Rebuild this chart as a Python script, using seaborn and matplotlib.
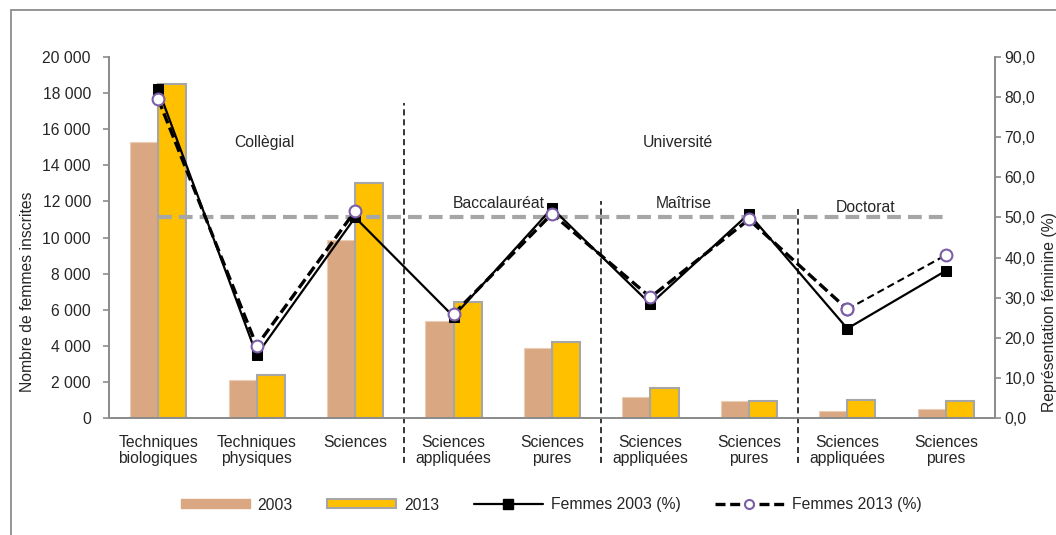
import numpy as np
import pandas as pd
import matplotlib
matplotlib.use("Agg")
import matplotlib.pyplot as plt
import seaborn as sns
from matplotlib.lines import Line2D
from matplotlib.patches import Patch, Rectangle
from matplotlib.ticker import FuncFormatter, MultipleLocator, FixedLocator

# --- data ---
categories = ["Techniques\nbiologiques", "Techniques\nphysiques", "Sciences",
              "Sciences\nappliquées", "Sciences\npures",
              "Sciences\nappliquées", "Sciences\npures",
              "Sciences\nappliquées", "Sciences\npures"]
inscrites_2003 = [15300, 2100, 9850, 5350, 3900, 1150, 950, 400, 520]
inscrites_2013 = [18500, 2400, 13000, 6450, 4200, 1650, 950, 980, 950]
femmes_2003 = [82.0, 15.7, 50.0, 25.3, 52.3, 28.4, 50.9, 22.3, 36.7]
femmes_2013 = [79.5, 18.0, 51.6, 25.9, 50.9, 30.1, 49.5, 27.1, 40.6]
parite = 50
years = ["2003", "2013"]
group_labels = ["Collègial", "Université", "Baccalauréat", "Maîtrise", "Doctorat"]
group_ends = [2, 4, 6]  # last category index before each divider

# colours
c2003 = "#D9A882"
c2013 = "#FFC000"
grey = "#8C8C8C"
purple = "#7B5EA7"
FS = 11.3

sns.set_style("white")
plt.rcParams["font.family"] = ["Liberation Sans", "DejaVu Sans"]
plt.rcParams["font.size"] = FS

W, H = 1056, 535
fig = plt.figure(figsize=(W / 100, H / 100), dpi=100)
ax = fig.add_axes([109 / W, 1 - 418 / H, (995 - 109) / W, (418 - 57) / H])

pos = np.arange(len(categories))
df = pd.DataFrame({
    "cat": np.tile(pos, 2),
    "n": inscrites_2003 + inscrites_2013,
    "annee": np.repeat(years, len(categories)),
})

sns.barplot(data=df, x="cat", y="n", hue="annee", hue_order=years,
            palette={"2003": c2003, "2013": c2013}, saturation=1,
            width=0.57, gap=0, legend=False, ax=ax, errorbar=None)
for cont, ec, lw in zip(ax.containers, ["#E9CDB6", "#A6A6A6"], [0.8, 1.5]):
    for p in cont:
        p.set_edgecolor(ec)
        p.set_linewidth(lw)

ax.set_xlim(-0.5, len(categories) - 0.5)
ax.set_ylim(0, 20000)
ax.yaxis.set_major_locator(MultipleLocator(2000))
ax.yaxis.set_major_formatter(FuncFormatter(lambda v, _: f"{int(v):,}".replace(",", " ")))
ax.set_xticks(pos)
ax.set_xticklabels(categories, fontsize=FS, linespacing=1.15)
ax.xaxis.set_minor_locator(FixedLocator(np.arange(-0.5, len(categories), 1.0)))
ax.tick_params(axis="x", which="major", length=0, pad=12)
ax.tick_params(axis="x", which="minor", length=5, color=grey, width=1.2, direction="out")
ax.tick_params(axis="y", length=4, color=grey, width=1.2, direction="out", pad=9, labelsize=FS, left=True)
ax.set_xlabel("")
ax.set_ylabel("")
for s in ["left", "bottom", "right"]:
    ax.spines[s].set_color(grey)
    ax.spines[s].set_linewidth(1.3)
ax.spines["top"].set_visible(False)

# --- percentage lines on the right axis ---
ax2 = ax.twinx()
ax2.set_ylim(0, 90)
ax2.yaxis.set_major_locator(MultipleLocator(10))
ax2.yaxis.set_major_formatter(FuncFormatter(lambda v, _: f"{v:.1f}".replace(".", ",")))
ax2.tick_params(axis="y", length=4, color=grey, width=1.2, direction="out", pad=3, labelsize=FS, right=True)
for s in ["left", "bottom", "right"]:
    ax2.spines[s].set_color(grey)
    ax2.spines[s].set_linewidth(1.3)
ax2.spines["top"].set_visible(False)

ax2.hlines(parite, pos[0], pos[-1], colors="#A6A6A6", lw=3, linestyles=(0, (3.3, 1.7)), zorder=1)

sns.lineplot(x=pos, y=femmes_2003, ax=ax2, color="black", lw=1.6, marker="s",
             markersize=7.5, markeredgecolor="black", zorder=3, legend=False)

f13 = np.array(femmes_2013)
seg_dash = dict(color="black", marker="o", markersize=8.5, markerfacecolor="white",
                markeredgecolor=purple, markeredgewidth=1.5, zorder=4, legend=False)
sns.lineplot(x=pos[:3], y=f13[:3], ax=ax2, lw=2.4, linestyle=(0, (3.2, 1.4)), **seg_dash)
sns.lineplot(x=pos[3:8], y=f13[3:8], ax=ax2, lw=2.4, linestyle=(0, (3.2, 1.4)), **seg_dash)
sns.lineplot(x=pos[7:], y=f13[7:], ax=ax2, lw=1.5, linestyle=(0, (3.5, 2)), **seg_dash)
ax2.set_xlim(-0.5, len(categories) - 0.5)
ax2.set_ylabel("")

# group dividers and labels
for end, top in zip(group_ends, [0.873, 0.602, 0.58]):
    ax2.axvline(end + 0.5, ymin=-0.125, ymax=top, color="black", lw=1.1,
                linestyle=(0, (4, 2.5)), clip_on=False, zorder=2)

text_pos = [(1.08, 68.6), (5.28, 68.6), (3.46, 53.4), (5.34, 53.6), (7.19, 52.6)]
for lab, (tx, ty) in zip(group_labels, text_pos):
    ax2.text(tx, ty, lab, ha="center", va="center", fontsize=FS, zorder=5)

# axis titles (Excel places them off-centre, the right one hugs the edge)
fig.text(20 / W, 1 - 292 / H, "Nombre de femmes inscrites", rotation=90,
         ha="left", va="center", fontsize=FS)
fig.text(1042 / W, 1 - 312 / H, "Représentation féminine (%)", rotation=90,
         ha="left", va="center", fontsize=FS)

# legend
handles = [
    Patch(facecolor=c2003, edgecolor=c2003),
    Patch(facecolor=c2013, edgecolor="#A6A6A6", linewidth=1.5),
    Line2D([], [], color="black", lw=1.6, marker="s", markersize=7.5),
    Line2D([], [], color="black", lw=2.4, linestyle=(0, (3, 1.4)), marker="o",
           markersize=6.5, markerfacecolor="white", markeredgecolor=purple, markeredgewidth=1.5),
]
fig.legend(handles, ["2003", "2013", "Femmes 2003 (%)", "Femmes 2013 (%)"],
           loc="center", bbox_to_anchor=(551 / W, 1 - 505 / H), ncol=4, frameon=False,
           fontsize=FS, handlelength=4.4, handleheight=0.5, handletextpad=0.5,
           columnspacing=2.2)

# outer chart frame
fig.add_artist(Rectangle((11 / W, -0.1), 2, 1 - 10 / H + 0.1, transform=fig.transFigure,
                         fill=False, edgecolor=grey, lw=1.3))

fig.savefig("out.png", dpi=100)
